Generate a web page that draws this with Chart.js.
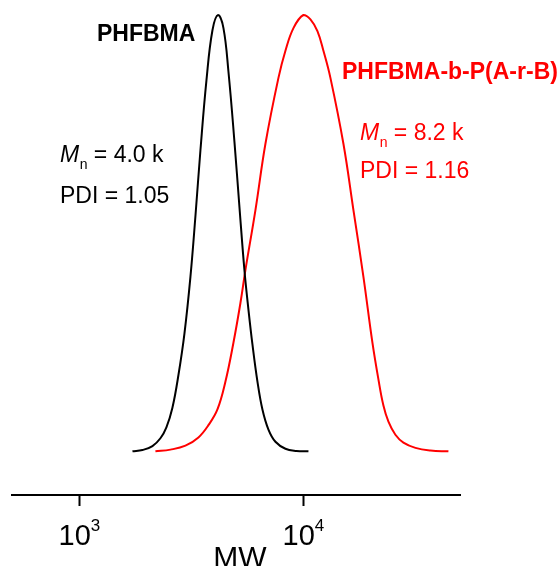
<!DOCTYPE html>
<html>
<head>
<meta charset="utf-8">
<script src="https://cdn.jsdelivr.net/npm/chart.js@4.4.1/dist/chart.umd.min.js"></script>
<style>
html,body{margin:0;padding:0;background:#fff;}
#wrap{width:558px;height:566px;}
</style>
</head>
<body>
<div id="wrap"><canvas id="c" width="558" height="566"></canvas></div>
<script>
// Molecular weight (g/mol) and normalized signal
const blackMW = [1725, 1911, 2118, 2299, 2445, 2601, 2767, 2943, 3130, 3296, 3469, 3690, 3925, 4161, 4395, 4627, 4920, 5180, 5453, 5682, 5921, 6233, 6561, 6980, 7499, 8311, 9306, 10530];
const blackSignal = [0, 0.003, 0.012, 0.03, 0.055, 0.10, 0.175, 0.27, 0.40, 0.54, 0.69, 0.85, 0.965, 1.0, 0.97, 0.87, 0.71, 0.56, 0.415, 0.325, 0.245, 0.16, 0.096, 0.05, 0.022, 0.006, 0.001, 0];
const redMW = [2184, 2548, 2973, 3398, 3766, 4131, 4486, 4870, 5233, 5510, 6106, 6767, 7735, 8311, 9024, 10000, 10746, 11548, 12283, 13197, 15085, 16720, 18530, 20324, 21616, 22757, 23962, 25740, 27950, 31623, 36898, 44390];
const redSignal = [0, 0.004, 0.013, 0.032, 0.06, 0.096, 0.16, 0.249, 0.34, 0.416, 0.553, 0.705, 0.856, 0.918, 0.970, 1.0, 0.99, 0.963, 0.918, 0.856, 0.705, 0.553, 0.40, 0.249, 0.165, 0.105, 0.068, 0.038, 0.02, 0.008, 0.002, 0];
const seriesNames = ["PHFBMA", "PHFBMA-b-P(A-r-B)"];
const tickValues = [1000, 10000];
const tickBase = ["10", "10"];
const tickExp = ["3", "4"];
const axisTitle = "MW";
const blackNotes = {mn: "4.0 k", pdi: "1.05"};
const redNotes = {mn: "8.2 k", pdi: "1.16"};

const FONT = "'Liberation Sans', Arial, sans-serif";

function toPoints(xs, ys){ return xs.map((x,i)=>({x:x, y:ys[i]})); }

const textPlugin = {
  id: 'texts',
  afterDraw(chart){
    const ctx = chart.ctx;
    const xs = chart.scales.x;
    ctx.save();
    ctx.fillStyle = '#000';
    ctx.textBaseline = 'alphabetic';
    ctx.textAlign = 'left';
    tickValues.forEach((v,i)=>{
      const px = xs.getPixelForValue(v);
      ctx.font = '29px ' + FONT;
      const wb = ctx.measureText(tickBase[i]).width;
      ctx.font = '17px ' + FONT;
      const we = ctx.measureText(tickExp[i]).width;
      const x0 = px - (wb + we) / 2;
      ctx.font = '29px ' + FONT;
      ctx.fillText(tickBase[i], x0, 545);
      ctx.font = '17px ' + FONT;
      ctx.fillText(tickExp[i], x0 + wb, 531);
    });
    ctx.font = '30px ' + FONT;
    ctx.textAlign = 'center';
    ctx.fillText(axisTitle, (chart.chartArea.left + chart.chartArea.right) / 2 + 4, 567);
    ctx.textAlign = 'left';

    function mnBlock(x, yMn, yPdi, color, notes){
      ctx.fillStyle = color;
      ctx.font = 'italic 23px ' + FONT;
      ctx.fillText('M', x, yMn);
      let cx = x + ctx.measureText('M').width + 0.5;
      ctx.font = '14px ' + FONT;
      ctx.fillText('n', cx, yMn + 7);
      cx += ctx.measureText('n').width;
      ctx.font = '23px ' + FONT;
      ctx.fillText(' = ' + notes.mn, cx, yMn);
      ctx.fillText('PDI = ' + notes.pdi, x, yPdi);
    }
    ctx.font = 'bold 23px ' + FONT;
    ctx.fillStyle = '#000';
    ctx.fillText(seriesNames[0], 97, 41);
    ctx.fillStyle = '#ff0000';
    ctx.fillText(seriesNames[1], 342, 79);
    mnBlock(60, 162, 203, '#000', blackNotes);
    mnBlock(360, 140, 178, '#ff0000', redNotes);
    ctx.restore();
  }
};

new Chart(document.getElementById('c'), {
  type: 'line',
  data: {
    datasets: [
      {label: seriesNames[0], data: toPoints(blackMW, blackSignal), borderColor: '#000', borderWidth: 2, pointRadius: 0, tension: 0.4, fill: false, clip: false},
      {label: seriesNames[1], data: toPoints(redMW, redSignal), borderColor: '#ff0000', borderWidth: 2, pointRadius: 0, tension: 0.4, fill: false, clip: false}
    ]
  },
  options: {
    responsive: false,
    animation: false,
    events: [],
    layout: {padding: {left: 12, right: 98, top: 15, bottom: 0}},
    plugins: {legend: {display: false}, tooltip: {enabled: false}, title: {display: false}},
    scales: {
      x: {
        type: 'logarithmic',
        min: 500,
        max: 50000,
        afterBuildTicks: (axis) => { axis.ticks = tickValues.map(v => ({value: v})); },
        afterFit: (scale) => { scale.height = 71; scale.paddingLeft = 0; scale.paddingRight = 0; },
        border: {display: true, color: '#000', width: 2},
        grid: {display: true, drawOnChartArea: false, drawTicks: true, tickLength: 11, tickWidth: 2, tickColor: '#000'},
        ticks: {display: true, callback: () => '', autoSkip: false, maxRotation: 0, padding: 0}
      },
      y: {
        display: false,
        min: -0.1,
        max: 1.0
      }
    }
  },
  plugins: [textPlugin]
});
</script>
</body>
</html>
